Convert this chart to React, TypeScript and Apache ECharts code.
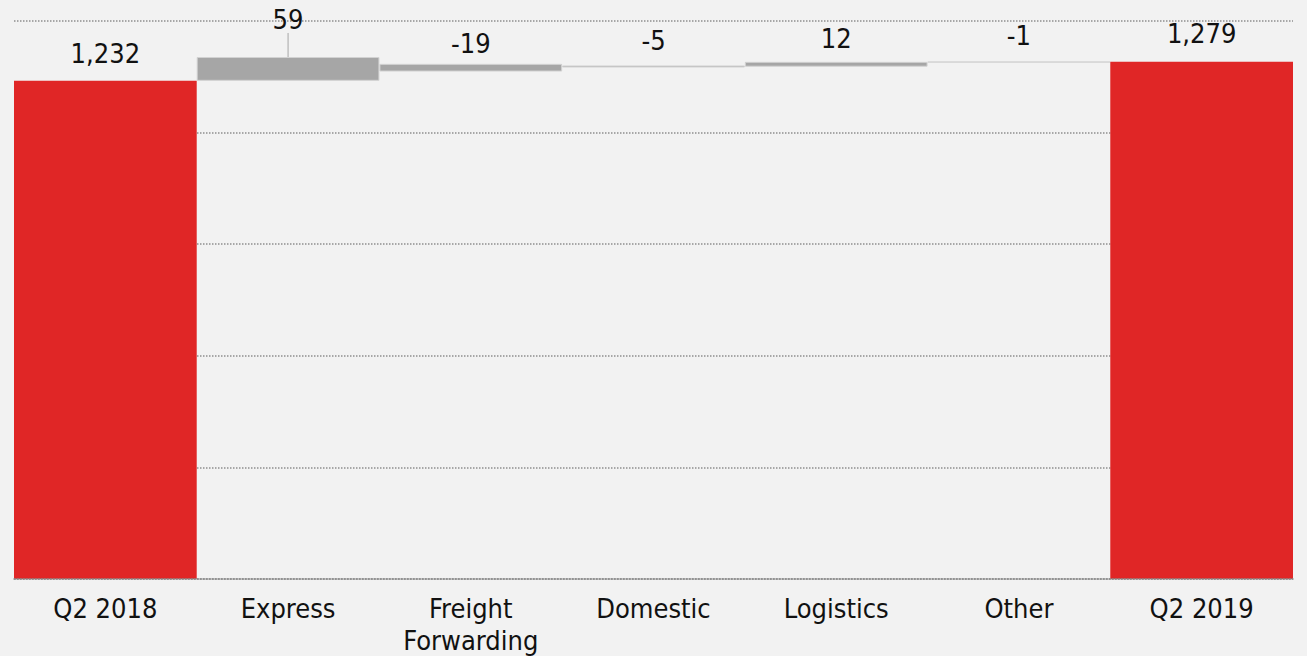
import React, { useEffect, useRef } from "react";
import * as echarts from "echarts";

// Category names along the x axis
const categories = [
  "Q2 2018",
  "Express",
  "Freight\nForwarding",
  "Domestic",
  "Logistics",
  "Other",
  "Q2 2019",
];

// Signed value shown above each bar (totals and changes)
const values = [1232, 59, -19, -5, 12, -1, 1279];

// Whether a bar is a total (red, from zero) or a floating change (grey)
const isTotal = [true, false, false, false, false, false, true];

// Bottom of each floating bar on the value axis
const floorValues = [0, 1232, 1255, 1265, 1267, 1278, 0];

// Value axis range and gridline step
const axisMax = 1380;
const axisStep = 276;

const FONT = "'DejaVu Sans Condensed', 'DejaVu Sans', sans-serif";
const RED = "#e02626";
const GREY = "#a6a6a6";
const LIFTED_LABEL = 1; // index of the label raised above its neighbours

// Space between each bar's top and its value label
const labelGaps = [14, 5, 7, 11, 10, 13, 15];

function formatValue(v: number): string {
  return v.toLocaleString("en-US");
}

export default function App() {
  const ref = useRef<HTMLDivElement>(null);

  useEffect(() => {
    if (!ref.current) return;
    const chart = echarts.init(ref.current, undefined, { renderer: "svg" });

    const visible = values.map((v, i) => ({
      value: Math.abs(v),
      itemStyle: isTotal[i]
        ? { color: RED, borderWidth: 0 }
        : { color: GREY, borderColor: "#d2d2d2", borderWidth: 1 },
      label: { distance: labelGaps[i] },
      labelLine: { show: i === LIFTED_LABEL },
    }));

    chart.setOption({
      animation: false,
      backgroundColor: "#f2f2f2",
      grid: { left: 14, right: 14, top: 21, bottom: 77, containLabel: false },
      xAxis: {
        type: "category",
        data: categories,
        z: 10,
        axisTick: { show: false },
        axisLine: {
          show: true,
          lineStyle: { color: "#8c8c8c", width: 1.5, type: [1.5, 1.5] },
        },
        axisLabel: {
          color: "#111111",
          fontSize: 27,
          fontFamily: FONT,
          lineHeight: 32,
          margin: 13,
          interval: 0,
        },
      },
      yAxis: {
        type: "value",
        min: 0,
        max: axisMax,
        interval: axisStep,
        axisLabel: { show: false },
        axisTick: { show: false },
        axisLine: { show: false },
        splitLine: {
          show: true,
          lineStyle: { color: "#8f8f8f", width: 1.5, type: [1.5, 1.5] },
        },
      },
      series: [
        {
          name: "base",
          type: "bar",
          stack: "wf",
          silent: true,
          barCategoryGap: "0%",
          itemStyle: { color: "transparent" },
          data: floorValues,
        },
        {
          name: "value",
          type: "bar",
          stack: "wf",
          barCategoryGap: "0%",
          data: visible,
          label: {
            show: true,
            position: "top",
            distance: 5,
            color: "#111111",
            fontSize: 27,
            fontFamily: FONT,
            formatter: (p: any) => formatValue(values[p.dataIndex]),
          },
          labelLine: {
            show: false,
            lineStyle: { color: GREY, width: 1 },
          },
          labelLayout: (p: any) =>
            p.dataIndex === LIFTED_LABEL ? { dy: -19 } : {},
        },
      ],
    });

    return () => chart.dispose();
  }, []);

  return (
    <div
      ref={ref}
      style={{ position: "fixed", left: 0, top: 0, width: 1307, height: 656 }}
    />
  );
}
